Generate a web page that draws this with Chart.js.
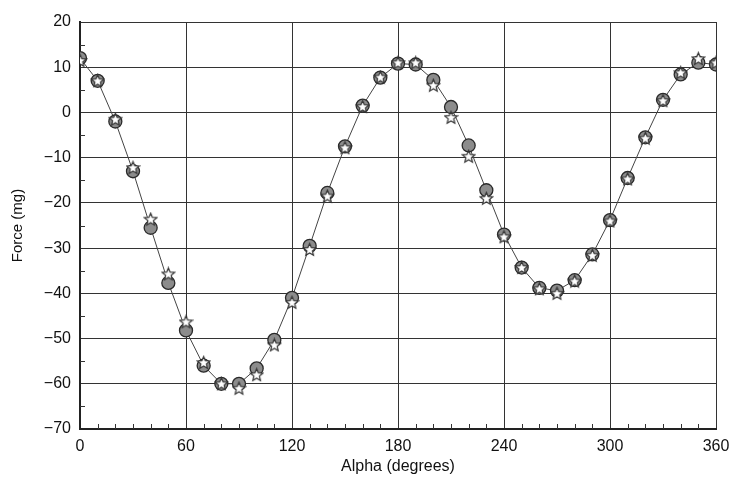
<!DOCTYPE html>
<html>
<head>
<meta charset="utf-8">
<script src="https://cdn.jsdelivr.net/npm/chart.js@4"></script>
<style>
  body { margin: 0; background: #fff; }
  #wrap { width: 730px; height: 478px; }
</style>
</head>
<body>
<div id="wrap"><canvas id="myChart" width="730" height="478"></canvas></div>
<script>
// angle in degrees
var alpha = [0,10,20,30,40,50,60,70,80,90,100,110,120,130,140,150,160,170,180,
             190,200,210,220,230,240,250,260,270,280,290,300,310,320,330,340,350,360];

// grey circles
var forceCircles = [12,7,-2,-13,-25.5,-37.7,-48.2,-56,-60,-60,-56.6,-50.3,-41,-29.5,-17.8,-7.5,1.5,7.7,10.8,
                    10.6,7.2,1.2,-7.3,-17.2,-27,-34.3,-38.8,-39.4,-37.1,-31.4,-23.8,-14.5,-5.5,2.8,8.4,11,10.6];

// white stars
var forceStars = [11.5,7,-1.5,-12.2,-23.6,-35.7,-46.3,-55.3,-60,-61,-58,-51.4,-42,-30.3,-18.5,-7.8,1.3,7.8,11,
                  11,6,-1.1,-9.7,-19,-27.5,-34.3,-39,-40,-37.3,-31.6,-24,-14.7,-5.7,2.6,8.8,11.9,11];

var xTicks = [0,60,120,180,240,300,360];
var yMin = -70, yMax = 20;

function toPoints(xs, ys) {
    return xs.map(function(x, i) { return {x: x, y: ys[i]}; });
}

// little 5-point star as a point image
function makeStar(size) {
    var c = document.createElement('canvas');
    c.width = size; c.height = size;
    var g = c.getContext('2d');
    var cx = size / 2, cy = size / 2 + 0.5, R = size / 2 - 1, r = R * 0.45;
    g.beginPath();
    for (var i = 0; i < 10; i++) {
        var a = -Math.PI / 2 + i * Math.PI / 5;
        var rr = (i % 2 === 0) ? R : r;
        g.lineTo(cx + rr * Math.cos(a), cy + rr * Math.sin(a));
    }
    g.closePath();
    g.fillStyle = '#fff';
    g.fill();
    g.lineWidth = 1.2;
    g.strokeStyle = '#333';
    g.stroke();
    return c;
}
var starImg = makeStar(15);

// inner minor ticks: every 10 deg on x, every 5 on y
var minorTicks = {
    id: 'minorTicks',
    beforeDatasetsDraw: function(chart) {
        var ctx = chart.ctx, xs = chart.scales.x, ys = chart.scales.y, area = chart.chartArea;
        ctx.save();
        ctx.strokeStyle = '#333';
        ctx.lineWidth = 1;
        ctx.beginPath();
        for (var v = 10; v < 360; v += 10) {
            if (v % 60 === 0) continue;
            var px = Math.round(xs.getPixelForValue(v)) + 0.5;
            ctx.moveTo(px, area.bottom);
            ctx.lineTo(px, area.bottom - 5);
        }
        for (var w = yMin + 5; w < yMax; w += 10) {
            var py = Math.round(ys.getPixelForValue(w)) + 0.5;
            ctx.moveTo(area.left, py);
            ctx.lineTo(area.left + 5, py);
        }
        ctx.stroke();
        ctx.restore();
    }
};

var fontFam = '"Liberation Sans", Arial, sans-serif';
var ctx = document.getElementById('myChart').getContext('2d');
var myChart = new Chart(ctx, {
    type: 'scatter',
    data: {
        datasets: [
            {
            label: 'Circles',
            data: toPoints(alpha, forceCircles),
            showLine: true,
            borderColor: '#444',
            borderWidth: 1,
            pointStyle: 'circle',
            pointRadius: 6.5,
            pointBackgroundColor: '#8c8c8c',
            pointBorderColor: '#2a2a2a',
            pointBorderWidth: 1.3,
            order: 2
            },
            {
            label: 'Stars',
            data: toPoints(alpha, forceStars),
            showLine: false,
            pointStyle: starImg,
            pointRadius: 7,
            order: 1
            }
        ]
    },
    options: {
        responsive: false,
        animation: false,
        layout: { padding: { top: 22, right: 14, bottom: 2, left: 9 } },
        plugins: { legend: { display: false }, tooltip: { enabled: false } },
        scales: {
            x: {
                type: 'linear',
                min: 0, max: 360,
                afterBuildTicks: function(axis) {
                    axis.ticks = xTicks.map(function(v) { return {value: v}; });
                },
                afterFit: function(axis) { axis.height = 47; axis.paddingRight = 0; },
                grid: { color: '#333', lineWidth: 1, drawTicks: false },
                border: { color: '#222', width: 2 },
                ticks: {
                    color: '#111', padding: 8, maxRotation: 0,
                    font: { family: fontFam, size: 16 }
                },
                title: {
                    display: true, text: 'Alpha (degrees)', color: '#111',
                    font: { family: fontFam, size: 16 }, padding: { top: 0, bottom: 0 }
                }
            },
            y: {
                min: yMin, max: yMax,
                ticks: {
                    stepSize: 10, color: '#111', padding: 9,
                    font: { family: fontFam, size: 16 },
                    callback: function(v) { return String(v).replace('-', '\u2212'); }
                },
                afterFit: function(axis) { axis.width = 71; },
                grid: { color: '#333', lineWidth: 1, drawTicks: false },
                border: { color: '#222', width: 2 },
                title: {
                    display: true, text: 'Force (mg)', color: '#111',
                    font: { family: fontFam, size: 15 }, padding: { top: 0, bottom: 2 }
                }
            }
        }
    },
    plugins: [minorTicks]
});
</script>
</body>
</html>
